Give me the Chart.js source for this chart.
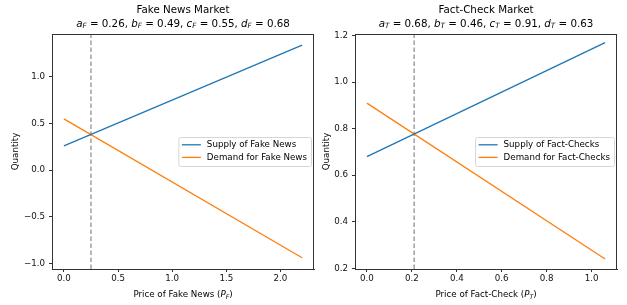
<!DOCTYPE html>
<html>
<head>
<meta charset="utf-8">
<script src="https://cdn.jsdelivr.net/npm/chart.js@4"></script>
<style>
  body { margin: 0; background: #fff; }
  #wrap { position: relative; width: 627px; height: 305px; }
  .box { position: absolute; top: 0; height: 305px; }
</style>
</head>
<body>
<div id="wrap">
  <div class="box" style="left:0;width:320px"><canvas id="fake" width="320" height="305"></canvas></div>
  <div class="box" style="left:320px;width:307px"><canvas id="fact" width="307" height="305"></canvas></div>
</div>
<script>
// Fake news market
const fakePrice = [0, 2.2];
const fakeSupply = [0.26, 1.34];
const fakeDemand = [0.55, -0.94];
const fakeEqPrice = 0.25;
const fakeXTicks = [0.0, 0.5, 1.0, 1.5, 2.0];
const fakeYTicks = [-1.0, -0.5, 0.0, 0.5, 1.0];

// Fact-check market
const factPrice = [0, 1.06];
const factSupply = [0.68, 1.17];
const factDemand = [0.91, 0.24];
const factEqPrice = 0.21;
const factXTicks = [0.0, 0.2, 0.4, 0.6, 0.8, 1.0];
const factYTicks = [0.2, 0.4, 0.6, 0.8, 1.0, 1.2];

const FONT = "'DejaVu Sans', sans-serif";
const BLUE = "#1f77b4";
const ORANGE = "#ff7f0e";
const SMALL = 8.7;

// draw text made of pieces, some italic / subscript, centred on cx
function drawRich(ctx, parts, cx, cy, size) {
  const fontOf = p => (p.it ? "italic " : "") + (p.sub ? size * 0.7 : size) + "px " + FONT;
  let total = 0;
  parts.forEach(p => { ctx.font = fontOf(p); total += ctx.measureText(p.t).width; });
  let x = cx - total / 2;
  ctx.textAlign = "left";
  ctx.textBaseline = "middle";
  parts.forEach(p => {
    ctx.font = fontOf(p);
    ctx.fillText(p.t, x, p.sub ? cy + size * 0.25 : cy);
    x += ctx.measureText(p.t).width;
  });
}

function mathLine(s, vals) {
  const names = ["a", "b", "c", "d"];
  const parts = [];
  names.forEach((n, i) => {
    parts.push({ t: n, it: true });
    parts.push({ t: s, it: true, sub: true });
    parts.push({ t: " = " + vals[i].toFixed(2) + (i < 3 ? ", " : "") });
  });
  return parts;
}

function makeChart(id, cfg) {
  const extras = {
    id: "extras",
    afterDraw(chart) {
      const ctx = chart.ctx;
      const a = chart.chartArea;
      ctx.save();
      // frame
      ctx.strokeStyle = "#333";
      ctx.lineWidth = 1;
      ctx.strokeRect(Math.round(a.left) + 0.5, Math.round(a.top) + 0.5,
        Math.round(a.right - a.left) - 1, Math.round(a.bottom - a.top));
      ctx.fillStyle = "#000";
      const cx = (a.left + a.right) / 2;
      // title
      ctx.font = "10.3px " + FONT;
      ctx.textAlign = "center";
      ctx.textBaseline = "middle";
      ctx.fillText(cfg.title, cx, 10);
      drawRich(ctx, mathLine(cfg.sub, cfg.params), cx, 24, 10.3);
      // x label
      drawRich(ctx, [{ t: cfg.xlabel + " (" }, { t: "P", it: true }, { t: cfg.sub, it: true, sub: true }, { t: ")" }], cx, 295, SMALL);
      // y label
      ctx.save();
      ctx.translate(cfg.ylabelX, (a.top + a.bottom) / 2);
      ctx.rotate(-Math.PI / 2);
      ctx.font = SMALL + "px " + FONT;
      ctx.textAlign = "center";
      ctx.textBaseline = "middle";
      ctx.fillText("Quantity", 0, 0);
      ctx.restore();
      // legend
      ctx.font = SMALL + "px " + FONT;
      const labels = [cfg.supplyLabel, cfg.demandLabel];
      const tw = Math.max(...labels.map(l => ctx.measureText(l).width));
      const w = 3.5 + 19 + 6 + tw + 4;
      const h = 29;
      const right = a.right - 3;
      const left = right - w;
      const top = (a.top + a.bottom) / 2 - h / 2;
      ctx.fillStyle = "rgba(255,255,255,0.8)";
      ctx.strokeStyle = "#d6d6d6";
      ctx.beginPath();
      ctx.roundRect(left + 0.5, top + 0.5, w, h, 2);
      ctx.fill();
      ctx.stroke();
      [BLUE, ORANGE].forEach((c, i) => {
        const y = top + 7.8 + i * 12.6;
        ctx.strokeStyle = c;
        ctx.lineWidth = 1.3;
        ctx.beginPath();
        ctx.moveTo(left + 3.5, y);
        ctx.lineTo(left + 22.5, y);
        ctx.stroke();
        ctx.fillStyle = "#000";
        ctx.textAlign = "left";
        ctx.textBaseline = "middle";
        ctx.fillText(labels[i], left + 28.5, y);
      });
      ctx.restore();
    }
  };

  const tickFont = { family: FONT, size: SMALL };
  return new Chart(document.getElementById(id), {
    type: "line",
    data: {
      datasets: [
        {
          data: cfg.price.map((p, i) => ({ x: p, y: cfg.supply[i] })),
          borderColor: BLUE, borderWidth: 1.3, pointRadius: 0
        },
        {
          data: cfg.price.map((p, i) => ({ x: p, y: cfg.demand[i] })),
          borderColor: ORANGE, borderWidth: 1.3, pointRadius: 0
        },
        {
          data: [{ x: cfg.eq, y: cfg.ymin }, { x: cfg.eq, y: cfg.ymax }],
          borderColor: "#707070", borderWidth: 1, borderDash: [4.5, 2.5], pointRadius: 0
        }
      ]
    },
    options: {
      responsive: false,
      animation: false,
      events: [],
      layout: { padding: { top: 34, right: cfg.padRight, left: 0, bottom: 0 } },
      plugins: { legend: { display: false }, tooltip: { enabled: false }, title: { display: false } },
      scales: {
        x: {
          type: "linear",
          min: cfg.xmin, max: cfg.xmax,
          afterBuildTicks: s => { s.ticks = cfg.xticks.map(v => ({ value: v })); },
          afterFit: s => { s.height = 36; },
          ticks: { font: tickFont, color: "#111", padding: 2, callback: v => v.toFixed(1), maxRotation: 0 },
          grid: { drawOnChartArea: false, tickLength: 3, color: "#333" },
          border: { color: "#333" }
        },
        y: {
          min: cfg.ymin, max: cfg.ymax,
          afterBuildTicks: s => { s.ticks = cfg.yticks.map(v => ({ value: v })); },
          afterFit: s => { s.width = cfg.yWidth; },
          ticks: { font: tickFont, color: "#111", padding: 4, callback: v => v.toFixed(1).replace("-", "\u2212") },
          grid: { drawOnChartArea: false, tickLength: 3, color: "#333" },
          border: { color: "#333" }
        }
      }
    },
    plugins: [extras]
  });
}

makeChart("fake", {
  title: "Fake News Market", sub: "F", params: [0.26, 0.49, 0.55, 0.68],
  xlabel: "Price of Fake News",
  supplyLabel: "Supply of Fake News", demandLabel: "Demand for Fake News",
  price: fakePrice, supply: fakeSupply, demand: fakeDemand, eq: fakeEqPrice,
  xticks: fakeXTicks, yticks: fakeYTicks,
  xmin: -0.11, xmax: 2.31, ymin: -1.06, ymax: 1.46,
  yWidth: 52, padRight: 6, ylabelX: 16
});

makeChart("fact", {
  title: "Fact-Check Market", sub: "T", params: [0.68, 0.46, 0.91, 0.63],
  xlabel: "Price of Fact-Check",
  supplyLabel: "Supply of Fact-Checks", demandLabel: "Demand for Fact-Checks",
  price: factPrice, supply: factSupply, demand: factDemand, eq: factEqPrice,
  xticks: factXTicks, yticks: factYTicks,
  xmin: -0.053, xmax: 1.113, ymin: 0.197, ymax: 1.207,
  yWidth: 35, padRight: 10, ylabelX: 7
});
</script>
</body>
</html>
